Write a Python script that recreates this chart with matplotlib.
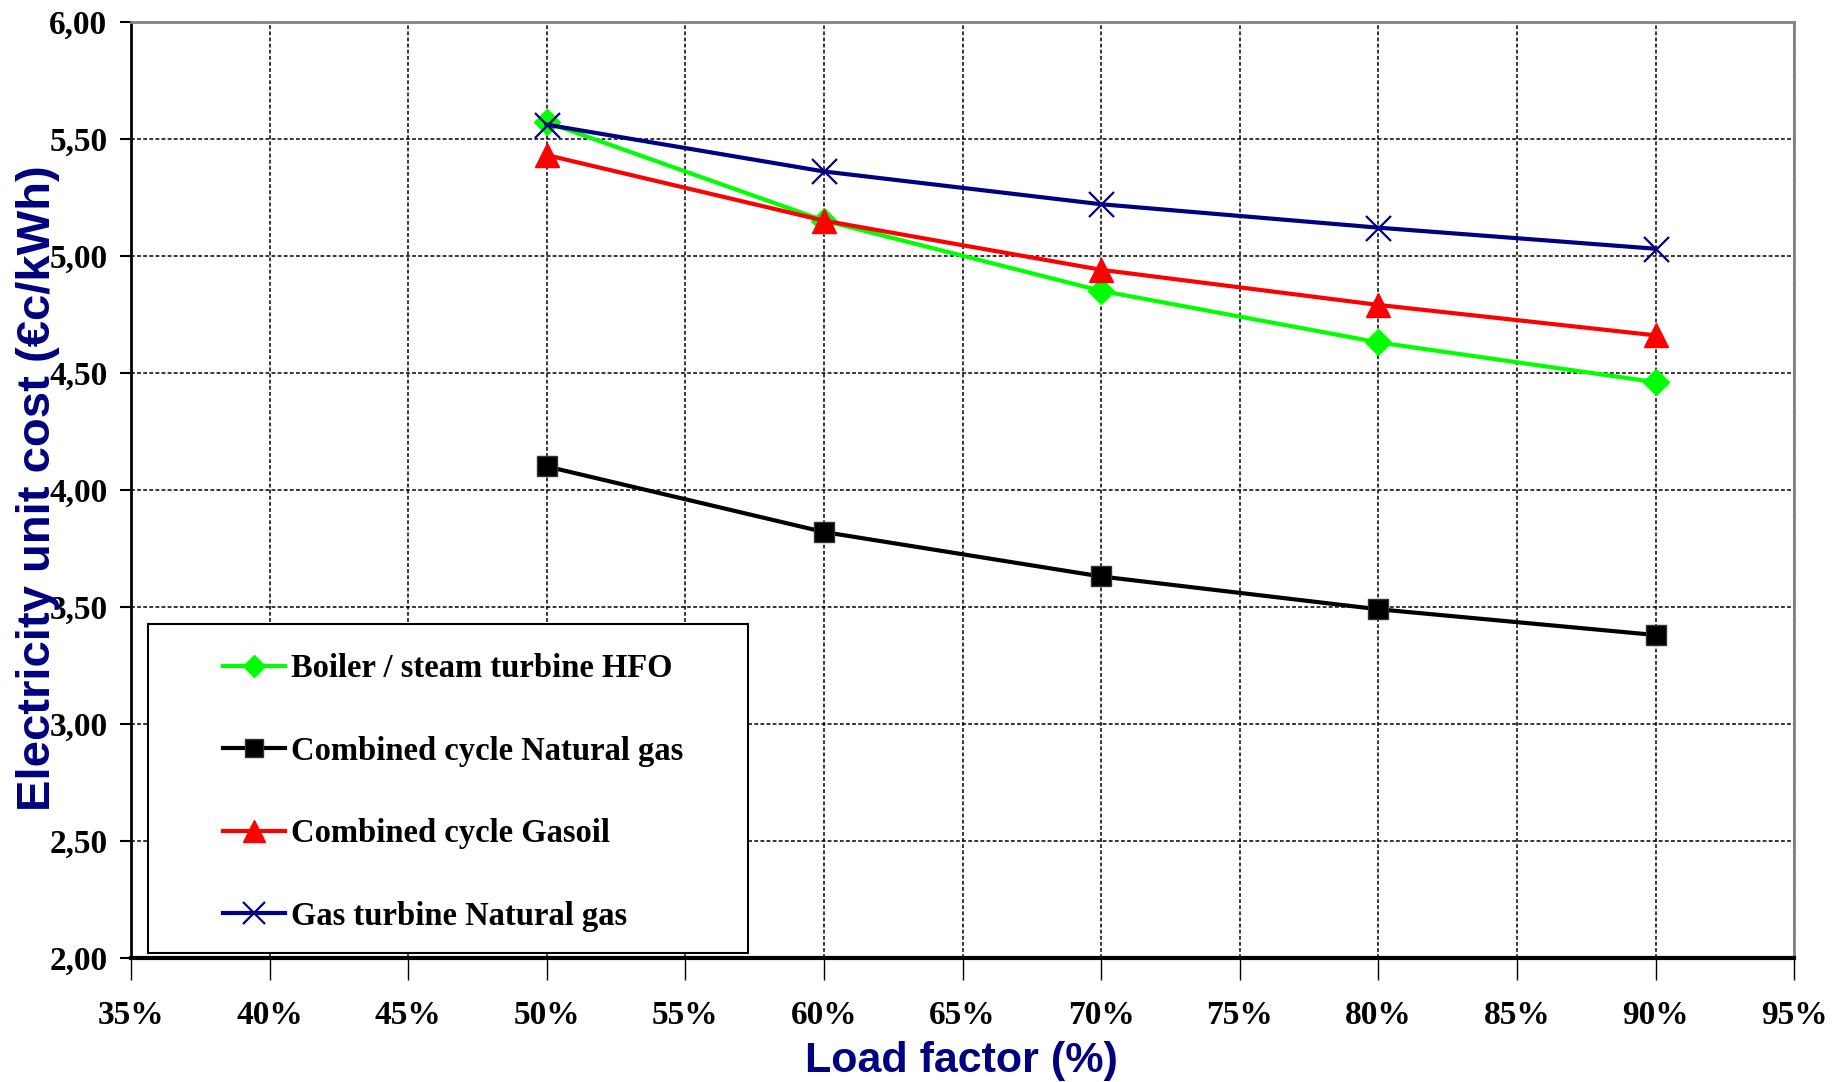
import matplotlib
matplotlib.use('Agg')
import matplotlib.pyplot as plt
from matplotlib.patches import Rectangle
from matplotlib.ticker import FuncFormatter, MultipleLocator

load_factor = [50, 60, 70, 80, 90]
boiler_hfo = [5.57, 5.15, 4.85, 4.63, 4.46]
cc_natural_gas = [4.10, 3.82, 3.63, 3.49, 3.38]
cc_gasoil = [5.43, 5.15, 4.94, 4.79, 4.66]
gt_natural_gas = [5.56, 5.36, 5.22, 5.12, 5.03]

series_labels = ['Boiler / steam turbine HFO', 'Combined cycle Natural gas',
                 'Combined cycle Gasoil', 'Gas turbine Natural gas']

navy = '#000080'

fig = plt.figure(figsize=(18.44, 10.82), dpi=100)
ax = fig.add_axes([0.071, 0.1145, 0.902, 0.8655])

ax.plot(load_factor, boiler_hfo, color='#00ff00', lw=3, marker='D', ms=13,
        mec='#00ff00', label=series_labels[0], zorder=3)
ax.plot(load_factor, cc_natural_gas, color='black', lw=3, marker='s', ms=15,
        mec='#333333', mew=1, label=series_labels[1], zorder=3)
ax.plot(load_factor, cc_gasoil, color='#ff0000', lw=3, marker='^', ms=17,
        label=series_labels[2], zorder=3)
ax.plot(load_factor, gt_natural_gas, color=navy, lw=3, marker='x', ms=18,
        mew=1.6, label=series_labels[3], zorder=4)

ax.set_xlim(35, 95)
ax.set_ylim(2.0, 6.0)
ax.xaxis.set_major_locator(MultipleLocator(5))
ax.yaxis.set_major_locator(MultipleLocator(0.5))
ax.xaxis.set_major_formatter(FuncFormatter(lambda v, p: f"{v:.0f}%"))
ax.yaxis.set_major_formatter(FuncFormatter(lambda v, p: f"{v:.2f}".replace('.', ',')))

for lbl in ax.get_xticklabels() + ax.get_yticklabels():
    lbl.set_fontfamily('Liberation Serif')
    lbl.set_fontweight('bold')
    lbl.set_fontsize(24)

ax.tick_params(axis='x', direction='out', length=16, width=1, pad=14)
ax.tick_params(axis='y', direction='out', length=8, width=1.5, pad=9)

ax.grid(True, color='black', linestyle=(0, (2.5, 1.5)), linewidth=1.1)
ax.set_axisbelow(True)

ax.spines['left'].set_linewidth(2)
ax.spines['bottom'].set_linewidth(3)
ax.spines['top'].set_color('#808090')
ax.spines['top'].set_linewidth(2)
ax.spines['right'].set_color('#808090')
ax.spines['right'].set_linewidth(2)

ax.set_xlabel('Load factor (%)', fontfamily='Liberation Sans', fontweight='bold',
              fontsize=31, color=navy)
ax.set_ylabel('Electricity unit cost (€c/kWh)', fontfamily='Liberation Sans',
              fontweight='bold', fontsize=34, color=navy)
ax.xaxis.set_label_coords(0.4994, -0.088)
ax.yaxis.set_label_coords(-0.0425, 0.502)

# legend frame drawn separately so the box matches the reference size
box = Rectangle((0.0102, 0.0053), 0.361, 0.352, transform=ax.transAxes,
                facecolor='white', edgecolor='black', lw=1.5, zorder=5)
ax.add_patch(box)

leg = ax.legend(loc='center left', bbox_to_anchor=(0.0553, 0.177),
                prop={'family': 'Liberation Serif', 'weight': 'bold', 'size': 23.5},
                handlelength=1.9, handletextpad=0.2, labelspacing=1.58,
                borderpad=0, borderaxespad=0, frameon=False, markerscale=0.9)
leg.set_zorder(6)

fig.savefig('out.png', dpi=100)
